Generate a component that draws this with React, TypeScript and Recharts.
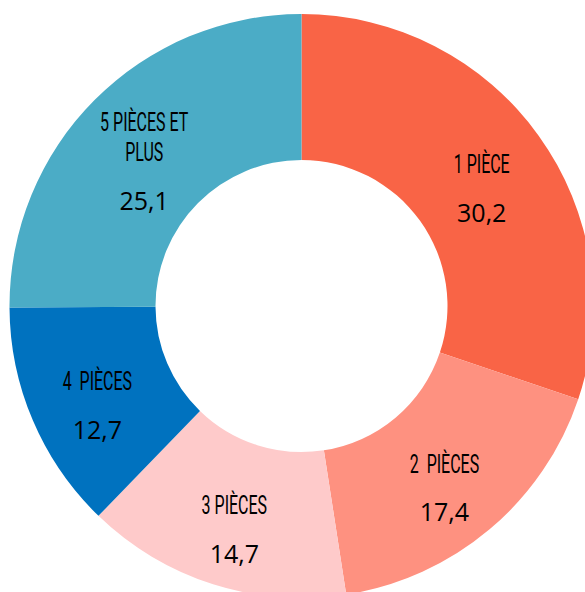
import React from "react";
import { PieChart, Pie, Cell } from "recharts";

const categories: string[][] = [
  ["1 PIÈCE"],
  ["2  PIÈCES"],
  ["3 PIÈCES"],
  ["4  PIÈCES"],
  ["5 PIÈCES ET", "PLUS"],
];
const values: number[] = [30.2, 17.4, 14.7, 12.7, 25.1];
const valueLabels: string[] = ["30,2", "17,4", "14,7", "12,7", "25,1"];
const colors: string[] = ["#F96446", "#FE9180", "#FECACA", "#0072BF", "#4BACC6"];

const data = values.map((v, i) => ({ name: categories[i].join(" "), value: v, i }));

const RAD = Math.PI / 180;

const renderLabel = (props: any) => {
  const { cx, cy, midAngle, innerRadius, outerRadius, index } = props;
  const r = innerRadius + (outerRadius - innerRadius) * 0.52;
  const gx = cx + r * Math.cos(-midAngle * RAD);
  const gy = cy + r * Math.sin(-midAngle * RAD) + 12;
  const lines = categories[index];
  const lineGap = 30;
  const valueGap = 47;
  const span = (lines.length - 1) * lineGap + valueGap;
  const top = gy - span / 2;
  return (
    <g>
      {lines.map((ln, k) => (
        <text
          key={k}
          transform={`translate(${gx},${top + k * lineGap}) scale(0.64,1)`}
          textAnchor="middle"
          dominantBaseline="central"
          fontFamily="Roboto, 'Liberation Sans', sans-serif"
          fontWeight={400}
          fontSize={25}
          fill="#000"
          style={{ whiteSpace: "pre" }}
        >
          {ln}
        </text>
      ))}
      <text
        x={gx}
        y={top + (lines.length - 1) * lineGap + valueGap}
        textAnchor="middle"
        dominantBaseline="central"
        fontFamily="'Open Sans', sans-serif"
        fontSize={25}
        fill="#000"
      >
        {valueLabels[index]}
      </text>
    </g>
  );
};

export default function App() {
  return (
    <div style={{ position: "absolute", left: 0, top: 0, width: 585, height: 592, overflow: "hidden" }}>
      <PieChart width={585} height={592} margin={{ top: 0, right: 0, bottom: 0, left: 0 }}>
        <Pie
          data={data}
          dataKey="value"
          cx={301.5}
          cy={306}
          innerRadius={146}
          outerRadius={292}
          startAngle={90}
          endAngle={-270}
          stroke="none"
          label={renderLabel}
          labelLine={false}
          isAnimationActive={false}
        >
          {data.map((d, i) => (
            <Cell key={i} fill={colors[i]} />
          ))}
        </Pie>
      </PieChart>
    </div>
  );
}
